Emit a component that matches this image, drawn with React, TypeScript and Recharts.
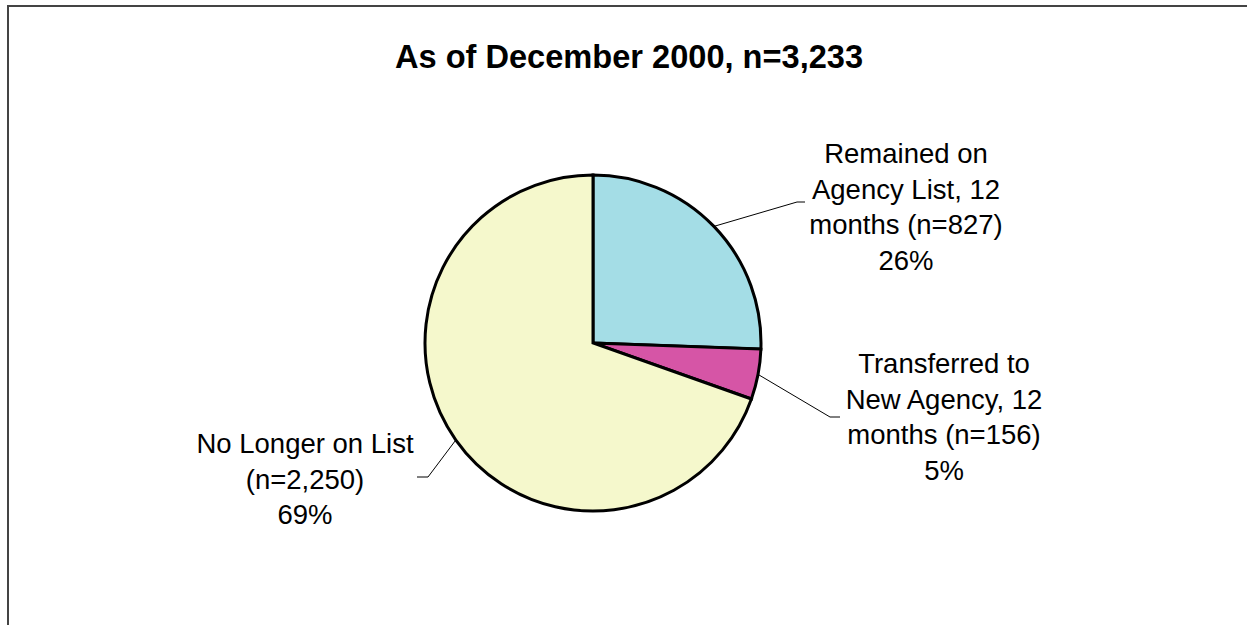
import React from 'react';
import { PieChart, Pie, Cell } from 'recharts';

const categories = [
  ['Remained on', 'Agency List, 12', 'months (n=827)'],
  ['Transferred to', 'New Agency, 12', 'months (n=156)'],
  ['No Longer on List', '(n=2,250)'],
];
const counts = [827, 156, 2250];
const percentLabels = ['26%', '5%', '69%'];
const title = 'As of December 2000, n=3,233';

const colors = ['#A4DDE6', '#D655A6', '#F5F8CC'];

// label placement relative to the pie centre (elbow, line end, text centre, first line)
const labelLayout = [
  { ex: 204, ey: -141, lx: 212, tx: 313, ty: -190 },
  { ex: 237, ey: 74, lx: 247, tx: 351, ty: 20 },
  { ex: -165, ey: 134, lx: -176, tx: -288, ty: 100 },
];

const chartData = categories.map((c, i) => ({ name: c.join(' '), value: counts[i] }));

const RADIAN = Math.PI / 180;
const FONT = '"Liberation Sans", Arial, sans-serif';

const renderLabel = (props: any) => {
  const { cx, cy, midAngle, outerRadius, index } = props;
  const l = labelLayout[index];
  const sx = cx + outerRadius * Math.cos(-midAngle * RADIAN);
  const sy = cy + outerRadius * Math.sin(-midAngle * RADIAN);
  const lines = [...categories[index], percentLabels[index]];
  return (
    <g>
      <polyline
        points={`${sx},${sy} ${cx + l.ex},${cy + l.ey} ${cx + l.lx},${cy + l.ey}`}
        fill="none"
        stroke="#000"
        strokeWidth={1}
      />
      <text
        x={cx + l.tx}
        y={cy + l.ty}
        textAnchor="middle"
        dominantBaseline="central"
        fontFamily={FONT}
        fontSize={27.5}
        fill="#000"
      >
        {lines.map((t, i) => (
          <tspan key={i} x={cx + l.tx} dy={i === 0 ? 0 : 35.5}>
            {t}
          </tspan>
        ))}
      </text>
    </g>
  );
};

export default function App() {
  return (
    <div style={{ position: 'absolute', left: 0, top: 0, width: 1247, height: 625, background: '#fff', overflow: 'hidden' }}>
      <div
        style={{
          position: 'absolute',
          left: 7,
          top: 5,
          width: 1300,
          height: 700,
          border: '2px solid #444',
          boxSizing: 'border-box',
        }}
      />
      <div
        style={{
          position: 'absolute',
          left: 0,
          top: 40,
          width: 1258,
          textAlign: 'center',
          fontFamily: FONT,
          fontWeight: 'bold',
          fontSize: 32.6,
          lineHeight: '34px',
        }}
      >
        {title}
      </div>
      <div style={{ position: 'absolute', left: 0, top: 0 }}>
        <PieChart width={1247} height={625} margin={{ top: 0, right: 0, bottom: 0, left: 0 }}>
          <Pie
            data={chartData}
            dataKey="value"
            cx={593}
            cy={343}
            outerRadius={168}
            startAngle={90}
            endAngle={-270}
            stroke="#000"
            strokeWidth={3}
            label={renderLabel}
            labelLine={false}
            isAnimationActive={false}
          >
            {chartData.map((d, i) => (
              <Cell key={d.name} fill={colors[i]} />
            ))}
          </Pie>
        </PieChart>
      </div>
    </div>
  );
}
